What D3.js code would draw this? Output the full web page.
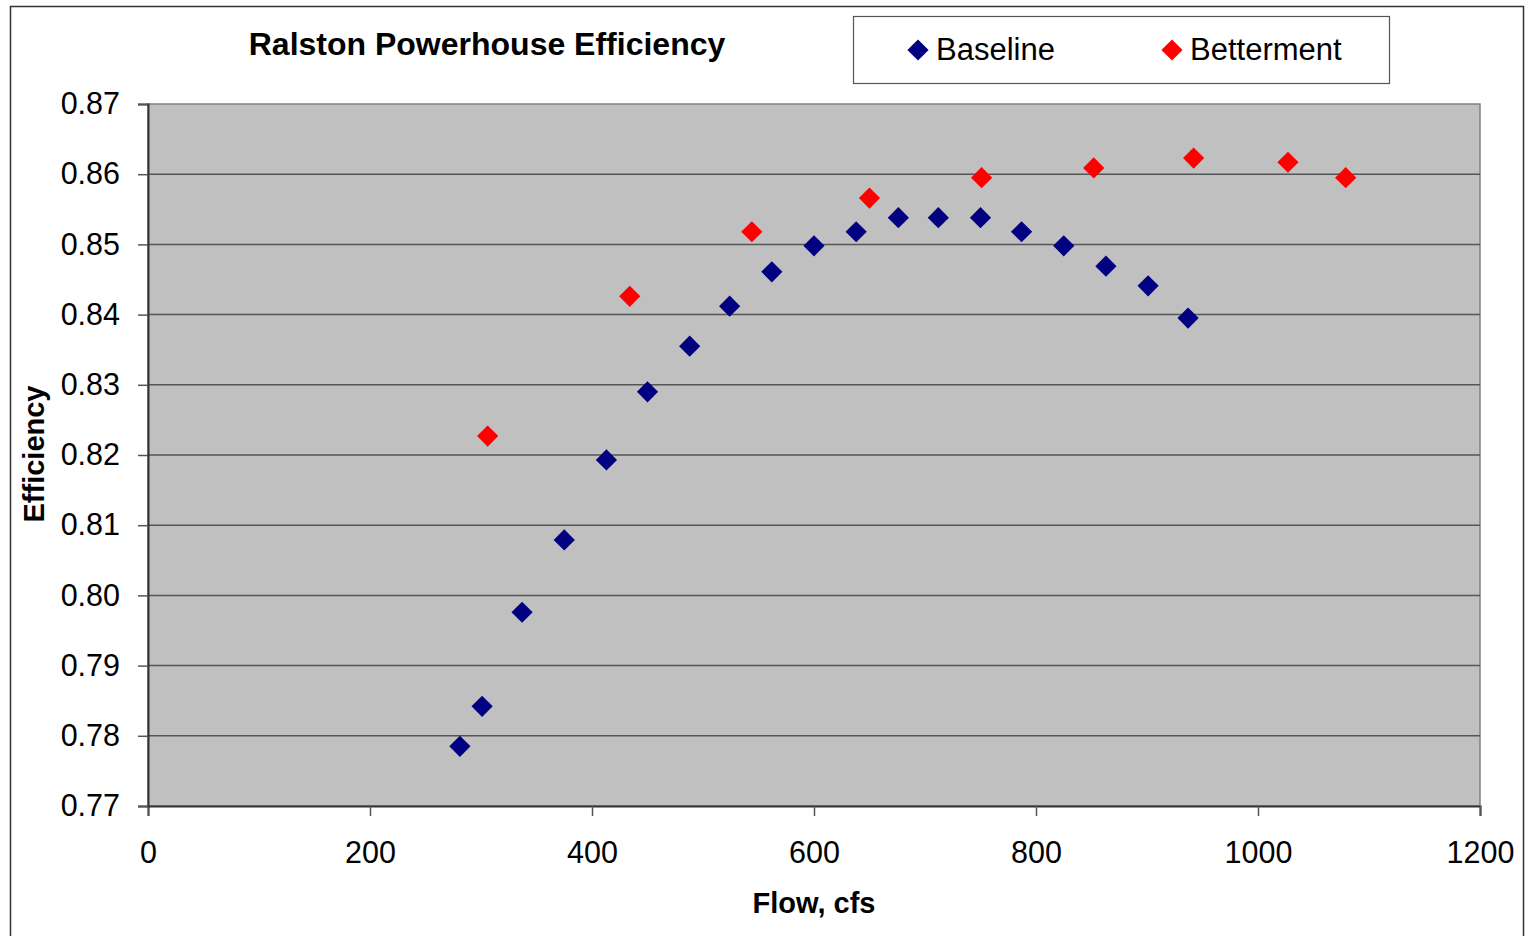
<!DOCTYPE html>
<html><head><meta charset="utf-8">
<script src="https://cdn.jsdelivr.net/npm/d3@7"></script>
<style>body{margin:0;background:#fff}svg{display:block;font-family:"Liberation Sans",Arial,sans-serif}</style>
</head><body><svg id="c" width="1528" height="936"></svg>
<script>
const baselineFlow = [281,301,337,375,413,450,488,524,562,600,638,676,712,750,787,825,863,901,937];
const baselineEff  = [0.7785,0.7842,0.7976,0.8079,0.8193,0.8290,0.8355,0.8412,0.8461,0.8498,0.8518,0.8538,0.8538,0.8538,0.8518,0.8498,0.8469,0.8441,0.8395];
const bettermentFlow = [306,434,544,650,751,852,942,1027,1079];
const bettermentEff  = [0.8227,0.8426,0.8518,0.8566,0.8595,0.8609,0.8623,0.8617,0.8595];
const xTicks = [0,200,400,600,800,1000,1200];
const yTicks = [0.77,0.78,0.79,0.80,0.81,0.82,0.83,0.84,0.85,0.86,0.87];
const seriesNames = ["Baseline","Betterment"];
const seriesColors = ["#000080","#ff0000"];

const svg = d3.select("#c");
const L=148,R=1480,T=104,B=806;
const x = d3.scaleLinear().domain([0,1200]).range([L,R]);
const y = d3.scaleLinear().domain([0.77,0.87]).range([B,T]);

// outer frame
svg.append("rect").attr("x",10.5).attr("y",6.5).attr("width",1513).attr("height",940).attr("fill","#fff").attr("stroke","#333").attr("stroke-width",1.5);

// plot area
svg.append("rect").attr("x",L).attr("y",T).attr("width",R-L).attr("height",B-T).attr("fill","#c0c0c0").attr("stroke","#808080").attr("stroke-width",1.5);

// gridlines
svg.append("g").selectAll("line").data(yTicks.slice(1,-1)).join("line")
  .attr("x1",L).attr("x2",R).attr("y1",d=>y(d)).attr("y2",d=>y(d))
  .attr("stroke","#555").attr("stroke-width",1.5);

// axes
const ax = svg.append("g").attr("transform",`translate(0,${B})`)
  .call(d3.axisBottom(x).tickValues(xTicks).tickSize(10).tickPadding(20).tickFormat(d3.format("d")));
const ay = svg.append("g").attr("transform",`translate(${L},0)`)
  .call(d3.axisLeft(y).tickValues(yTicks).tickSize(10).tickPadding(18).tickFormat(d3.format(".2f")));
[ax,ay].forEach(g=>{
  g.select(".domain").attr("stroke","#333").attr("stroke-width",2);
  g.selectAll(".tick line").attr("stroke","#555").attr("stroke-width",1.5);
  g.selectAll("text").attr("font-size",30.5).attr("fill","#000").attr("font-family","Liberation Sans, Arial, sans-serif");
});
ax.selectAll("text").attr("dy","0.9em");

// points
function drawSeries(fx,fy,color){
  svg.append("g").selectAll("rect").data(fx.map((f,i)=>[f,fy[i]])).join("rect")
    .attr("x",-7.5).attr("y",-7.5).attr("width",15).attr("height",15)
    .attr("transform",d=>`translate(${x(d[0])},${y(d[1])}) rotate(45)`)
    .attr("fill",color);
}
drawSeries(baselineFlow,baselineEff,seriesColors[0]);
drawSeries(bettermentFlow,bettermentEff,seriesColors[1]);

// titles
svg.append("text").attr("x",487).attr("y",55).attr("text-anchor","middle")
  .attr("font-size",32).attr("font-weight","bold").text("Ralston Powerhouse Efficiency");
svg.append("text").attr("x",814).attr("y",913).attr("text-anchor","middle")
  .attr("font-size",29).attr("font-weight","bold").text("Flow, cfs");
svg.append("text").attr("transform","translate(44,454) rotate(-90)").attr("text-anchor","middle")
  .attr("font-size",29).attr("font-weight","bold").text("Efficiency");

// legend
svg.append("rect").attr("x",853.5).attr("y",16.5).attr("width",536).attr("height",67)
  .attr("fill","#fff").attr("stroke","#555").attr("stroke-width",1.2);
const lx=[918,1172];
seriesNames.forEach((n,i)=>{
  svg.append("rect").attr("x",-7.5).attr("y",-7.5).attr("width",15).attr("height",15)
    .attr("transform",`translate(${lx[i]},50) rotate(45)`).attr("fill",seriesColors[i]);
  svg.append("text").attr("x",lx[i]+18).attr("y",60).attr("font-size",31).text(n);
});
</script></body></html>
